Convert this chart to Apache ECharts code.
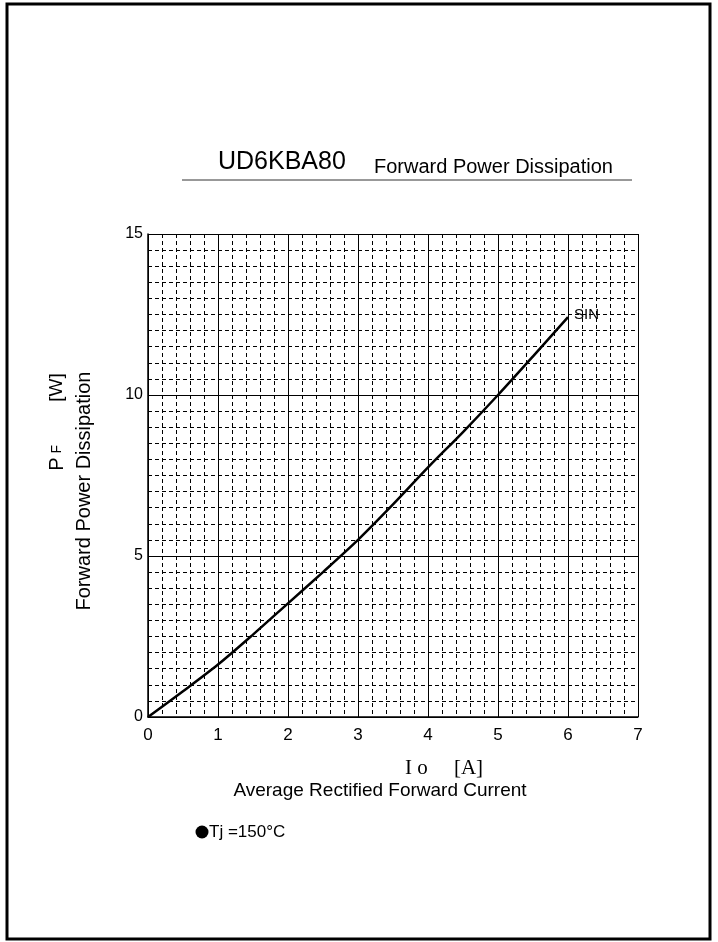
<!DOCTYPE html>
<html>
<head>
<meta charset="utf-8">
<script src="https://cdn.jsdelivr.net/npm/echarts@6/dist/echarts.min.js"></script>
<style>
html,body{margin:0;padding:0;background:#fff}
#main{width:718px;height:942px}
</style>
</head>
<body>
<div id="main"></div>
<script>
// Io [A] vs PF [W], SIN waveform
const ioA = [0, 0.5, 1, 1.5, 2, 2.5, 3, 3.5, 4, 4.5, 5, 5.5, 6];
const pfW = [0, 0.8, 1.63, 2.56, 3.53, 4.5, 5.5, 6.6, 7.75, 8.85, 10.0, 11.2, 12.42];
const xTicks = [0, 1, 2, 3, 4, 5, 6, 7];
const yTicks = [0, 5, 10, 15];

const chartDom = document.getElementById('main')
let myChart = echarts.init(chartDom)
let option;

const font = 'Arial, "Liberation Sans", sans-serif'
const pts = ioA.map((x, i) => [x, pfW[i]])

option = {
    animation: false,
    backgroundColor: '#fff',
    grid: { left: 148, right: 80, top: 234, bottom: 225 },
    xAxis: {
        type: 'value',
        min: xTicks[0],
        max: xTicks[xTicks.length - 1],
        interval: 1,
        axisLine: { lineStyle: { color: '#000', width: 1.5 } },
        axisTick: { show: false },
        axisLabel: { color: '#000', fontSize: 17, fontFamily: font, margin: 10 },
        splitLine: { show: true, lineStyle: { color: '#000', width: 1 } },
        minorTick: { show: false, splitNumber: 5 },
        minorSplitLine: { show: true, lineStyle: { color: '#000', width: 1, type: [4, 3] } }
    },
    yAxis: {
        type: 'value',
        min: yTicks[0],
        max: yTicks[yTicks.length - 1],
        interval: 5,
        axisLine: { show: true, lineStyle: { color: '#000', width: 1.5 } },
        axisTick: { show: false },
        axisLabel: { color: '#000', fontSize: 16, fontFamily: font, margin: 5 },
        splitLine: { show: true, lineStyle: { color: '#000', width: 1 } },
        minorTick: { show: false, splitNumber: 10 },
        minorSplitLine: { show: true, lineStyle: { color: '#000', width: 1, type: [4, 3] } }
    },
    series: [{
        name: 'SIN',
        type: 'line',
        data: pts,
        smooth: 0.3,
        symbol: 'none',
        lineStyle: { color: '#000', width: 2.5 },
        endLabel: {
            show: true,
            formatter: 'SIN',
            color: '#000',
            fontSize: 15,
            fontFamily: font,
            distance: 6,
            offset: [0, -2]
        }
    }],
    graphic: [
        { type: 'rect', shape: { x: 7, y: 4, width: 703, height: 935 },
          style: { fill: 'none', stroke: '#000', lineWidth: 3 } },
        { type: 'line', shape: { x1: 182, y1: 180, x2: 632, y2: 180 },
          style: { stroke: '#333', lineWidth: 1 } },
        { type: 'text', x: 218, y: 175,
          style: { text: 'UD6KBA80', fontSize: 25, fontFamily: font, fill: '#000', textAlign: 'left', textVerticalAlign: 'bottom' } },
        { type: 'text', x: 374, y: 177,
          style: { text: 'Forward Power Dissipation', fontSize: 20, fontFamily: font, fill: '#000', textAlign: 'left', textVerticalAlign: 'bottom' } },
        { type: 'text', x: 57, y: 422, rotation: Math.PI / 2,
          style: { text: '{p|P}{f| F}             {w|[W]}', textAlign: 'center', textVerticalAlign: 'middle', fill: '#000',
            rich: {
                p: { fontSize: 20, fontFamily: font, fill: '#000' },
                f: { fontSize: 14, fontFamily: font, fill: '#000' },
                w: { fontSize: 19, fontFamily: font, fill: '#000' }
            } } },
        { type: 'text', x: 84, y: 491, rotation: Math.PI / 2,
          style: { text: 'Forward Power Dissipation', fontSize: 20, fontFamily: font, fill: '#000', textAlign: 'center', textVerticalAlign: 'middle' } },
        { type: 'text', x: 444, y: 768,
          style: { text: 'I o     [A]', fontSize: 21, fontFamily: '"Liberation Serif", "DejaVu Serif", serif', fill: '#000', textAlign: 'center', textVerticalAlign: 'middle' } },
        { type: 'text', x: 380, y: 791,
          style: { text: 'Average Rectified Forward Current', fontSize: 19, fontFamily: font, fill: '#000', textAlign: 'center', textVerticalAlign: 'middle' } },
        { type: 'circle', shape: { cx: 202, cy: 832, r: 6.5 }, style: { fill: '#000' } },
        { type: 'text', x: 209, y: 832,
          style: { text: 'Tj =150°C', fontSize: 17, fontFamily: font, fill: '#000', textAlign: 'left', textVerticalAlign: 'middle' } }
    ]
}

option && myChart.setOption(option);
</script>
</body>
</html>
